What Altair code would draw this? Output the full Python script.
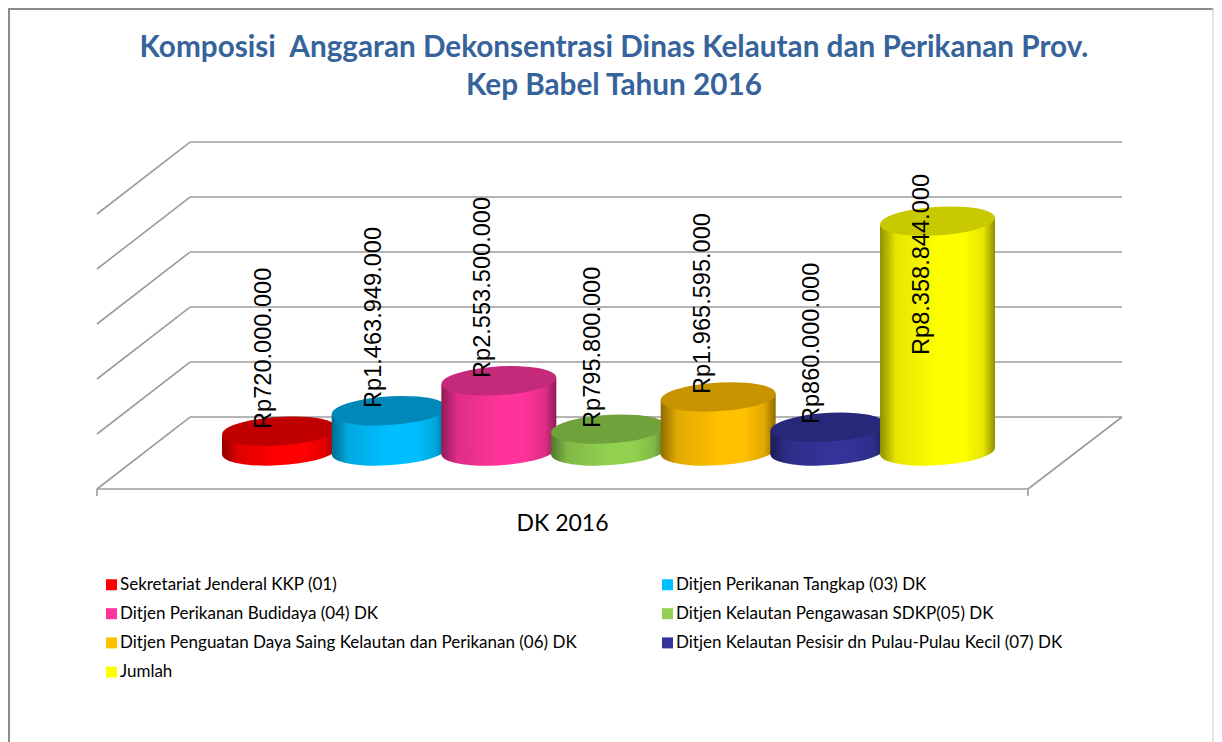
import altair as alt
import pandas as pd

categories = [
    "Sekretariat Jenderal KKP (01)",
    "Ditjen Perikanan Tangkap (03) DK",
    "Ditjen Perikanan Budidaya (04) DK",
    "Ditjen Kelautan Pengawasan SDKP(05) DK",
    "Ditjen Penguatan Daya Saing Kelautan dan Perikanan (06) DK",
    "Ditjen Kelautan Pesisir dn Pulau-Pulau Kecil (07) DK",
    "Jumlah",
]
values = [720000000, 1463949000, 2553500000, 795800000, 1965595000, 860000000, 8358844000]
label_base = [0.80e9, 1.564e9, 2.655e9, 0.836e9, 2.07e9, 0.98e9, 3.49e9]
bright = ["#ff0000", "#00bfff", "#ff3399", "#92d050", "#ffc000", "#333399", "#ffff00"]
mid = ["#e00000", "#00a8e0", "#e02d88", "#80b846", "#e0a900", "#2d2d88", "#e6e600"]
edge = ["#8f0000", "#006b8f", "#8f1c56", "#52752d", "#8f6b00", "#1c1c56", "#8f8f00"]
top = ["#c00000", "#0088b8", "#c4297a", "#6fa23a", "#c79400", "#28287a", "#c9c900"]
grid_levels = [0, 2e9, 4e9, 6e9, 8e9, 10e9]
title_lines = ["Komposisi\u00a0 Anggaran Dekonsentrasi Dinas Kelautan dan Perikanan Prov.", "Kep Babel Tahun 2016"]
group_label = "DK 2016"

W, H = 1206, 734
PX = 109.67
x0 = 279.5
xs = alt.Scale(domain=[(8 - x0) / PX, (8 + W - x0) / PX], range=[0, W], nice=False, zero=False)
ys = alt.Scale(domain=[-(8 + H - 451) / 27.5 * 1e9, (451 - 8) / 27.5 * 1e9], range=[H, 0], nice=False, zero=False)
X = alt.X("x:Q", scale=xs, axis=None)
Y = alt.Y("y:Q", scale=ys, axis=None)

# room geometry, in the chart's own units (category index, rupiah)
back_l, back_r, front_l, front_r = (190 - x0) / PX, (1122 - x0) / PX, (97 - x0) / PX, (1028 - x0) / PX
back_y, front_y, tick_y = 1.236e9, -1.382e9, -1.64e9
half_w, tilt = 57.5 / PX, 0.127e9
ELL = "M-0.998,0.061 A1,0.245 -3.5 1 1 0.998,-0.061 A1,0.245 -3.5 1 1 -0.998,0.061 Z"
ELL_SIZE = 115 ** 2
GRID = "#9c9c9c"

segs = []
for g in grid_levels:
    segs.append(dict(x=back_l, x2=back_r, y=back_y + g, y2=back_y + g))
    segs.append(dict(x=front_l, x2=back_l, y=front_y + g, y2=back_y + g))
segs += [
    dict(x=front_l, x2=front_r, y=front_y, y2=front_y),
    dict(x=front_r, x2=back_r, y=front_y, y2=back_y),
    dict(x=front_l, x2=front_l, y=front_y, y2=tick_y),
    dict(x=front_r, x2=front_r, y=front_y, y2=tick_y),
]
room = alt.Chart(pd.DataFrame(segs)).mark_rule(color=GRID, strokeWidth=1.6).encode(
    x=X, y=Y, x2="x2:Q", y2="y2:Q"
)

one = pd.DataFrame({"a": [0]})
frame = [
    alt.Chart(one).mark_rule(color="#8c8c8c", strokeWidth=2).encode(x=alt.value(1), y=alt.value(0), y2=alt.value(H)),
    alt.Chart(one).mark_rule(color="#8c8c8c", strokeWidth=2).encode(y=alt.value(1), x=alt.value(0), x2=alt.value(W)),
    alt.Chart(one).mark_rule(color="#d9d9d9", strokeWidth=1.5).encode(x=alt.value(W - 1), y=alt.value(0), y2=alt.value(H)),
]

# invisible layer that feeds the legend
legend_df = pd.DataFrame({"x": list(range(7)), "y": [0] * 7, "cat": categories})
legend_layer = alt.Chart(legend_df).mark_square(size=0, opacity=0).encode(
    x=X, y=Y,
    color=alt.Color(
        "cat:N",
        scale=alt.Scale(domain=categories, range=bright),
        sort=categories,
        legend=alt.Legend(
            title=None, orient="none", legendX=95, legendY=568, columns=2, direction="horizontal",
            symbolType="square", symbolSize=121, symbolOpacity=1, symbolStrokeWidth=0,
            labelFont="Lato", labelFontSize=17, labelColor="#000000", labelLimit=560,
            rowPadding=11.2, columnPadding=82, labelOffset=0, gridAlign="each",
        ),
    ),
)

bars = []
for i, v in enumerate(values):
    grad = alt.Gradient(
        gradient="linear", x1=0, x2=1, y1=0, y2=0,
        stops=[
            alt.GradientStop(color=edge[i], offset=0),
            alt.GradientStop(color=mid[i], offset=0.14),
            alt.GradientStop(color=bright[i], offset=0.5),
            alt.GradientStop(color=bright[i], offset=0.72),
            alt.GradientStop(color=mid[i], offset=0.9),
            alt.GradientStop(color=edge[i], offset=1),
        ],
    )
    base_pt = pd.DataFrame({"x": [i], "y": [0]})
    top_pt = pd.DataFrame({"x": [i], "y": [v]})
    body = pd.DataFrame({
        "x": [i - half_w, i + half_w],
        "y": [v - tilt, v + tilt],
        "y2": [-tilt, tilt],
    })
    bars.append(alt.Chart(base_pt).mark_point(filled=True, fill=grad, shape=ELL, size=ELL_SIZE, opacity=1, strokeWidth=0).encode(x=X, y=Y))
    bars.append(alt.Chart(body).mark_area(fill=grad, opacity=1).encode(x=X, y=Y, y2="y2:Q"))
    bars.append(alt.Chart(top_pt).mark_point(filled=True, fill=top[i], shape=ELL, size=ELL_SIZE, opacity=1, strokeWidth=0).encode(x=X, y=Y))

label_df = pd.DataFrame({
    "x": [i - 8.5 / PX for i in range(7)],
    "y": label_base,
    "t": [f"Rp{v:,}".replace(",", ".") for v in values],
})
labels = alt.Chart(label_df).mark_text(
    angle=270, align="left", baseline="alphabetic", font="Liberation Sans", fontSize=23.6, color="#000000"
).encode(x=X, y=Y, text="t:N")

group_text = alt.Chart(pd.DataFrame({"x": [(562.5 - x0) / PX], "y": [-2.9e9], "t": [group_label]})).mark_text(
    align="center", baseline="alphabetic", font="Lato", fontSize=23, color="#000000"
).encode(x=X, y=Y, text="t:N")

chart = alt.layer(*frame, room, legend_layer, *bars, labels, group_text).properties(
    width=W, height=H, padding=0, autosize=alt.AutoSizeParams(type="none"),
    title=alt.TitleParams(
        text=title_lines, anchor="middle", frame="group", font="Lato", fontSize=29.7, fontWeight="bold",
        color="#35639a", lineHeight=38, offset=-95, dx=3,
    ),
).configure_view(stroke=None)

chart.save("out.html", embed_options={"renderer": "svg", "actions": False})
